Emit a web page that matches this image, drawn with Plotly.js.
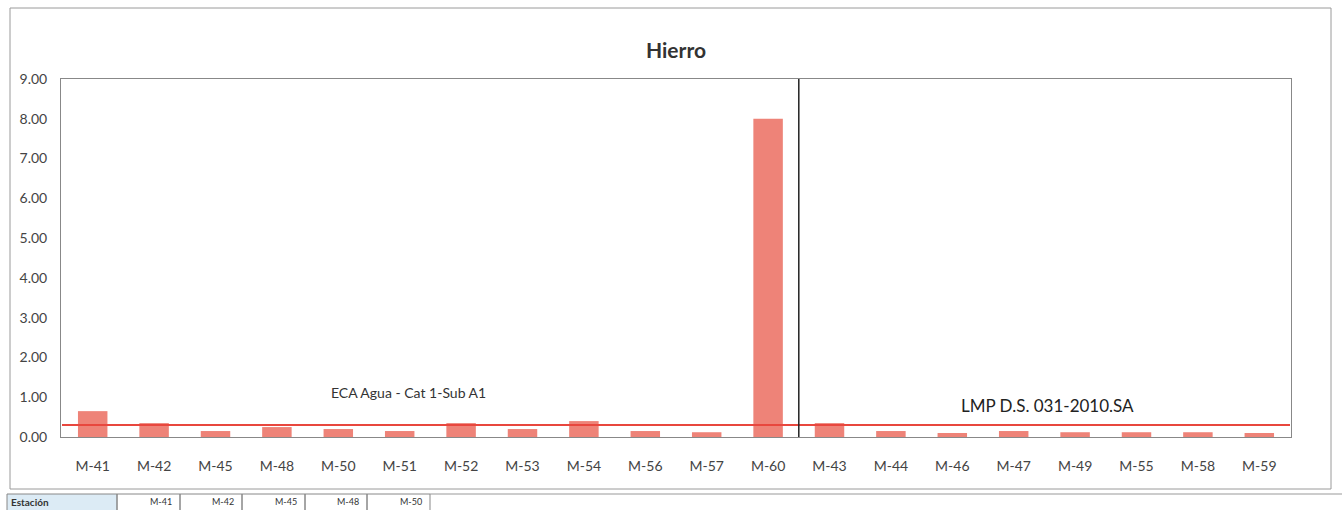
<!DOCTYPE html>
<html>
<head>
<meta charset="utf-8">
<script src="https://cdn.plot.ly/plotly-3.0.1.min.js"></script>
<style>html,body{margin:0;padding:0;background:#fff;}#chart{width:1342px;height:510px;}</style>
</head>
<body>
<div id="chart"></div>
<script>
// Data
const stations = ["M-41","M-42","M-45","M-48","M-50","M-51","M-52","M-53","M-54","M-56","M-57","M-60","M-43","M-44","M-46","M-47","M-49","M-55","M-58","M-59"];
const hierro = [0.65,0.35,0.15,0.25,0.20,0.15,0.35,0.20,0.40,0.15,0.12,8.00,0.35,0.15,0.10,0.15,0.12,0.12,0.12,0.10];
const ecaStations = ["M-41","M-42","M-45","M-48","M-50","M-51","M-52","M-53","M-54","M-56","M-57","M-60"];
const lmpStations = ["M-43","M-44","M-46","M-47","M-49","M-55","M-58","M-59"];
const ecaLimit = 0.3;
const lmpLimit = 0.3;
const yTicks = [0,1,2,3,4,5,6,7,8,9];
const ecaLabel = "ECA Agua - Cat 1-Sub A1";
const lmpLabel = "LMP D.S. 031-2010.SA";
const tableHeader = "Estación";
const tableCells = ["M-41","M-42","M-45","M-48","M-50"];

const font = "Lato, 'Open Sans', sans-serif";
const lineRed = "#E8473E";
const barColor = "#EE8378";

const ecaStart = stations.indexOf(ecaStations[0]) - 0.5;
const ecaEnd = stations.indexOf(ecaStations[ecaStations.length-1]) + 0.5;
const lmpStart = stations.indexOf(lmpStations[0]) - 0.5;
const lmpEnd = stations.indexOf(lmpStations[lmpStations.length-1]) + 0.5;

const traces = [{
  type: "bar",
  x: stations,
  y: hierro,
  marker: {color: barColor},
  hoverinfo: "x+y"
}];

// paper conversion helpers (plot area: x 61..1291, y 79..437)
const px = v => (v - 61) / 1230;
const py = v => (437 - v) / 358;

const shapes = [
  // outer chart border
  {type:"rect", xref:"paper", yref:"paper", x0:px(10), x1:px(1331), y0:py(489), y1:py(8),
   line:{color:"#9a9a9a", width:1}},
  // ECA limit line
  {type:"line", xref:"x", yref:"y", x0:ecaStart, x1:ecaEnd, y0:ecaLimit, y1:ecaLimit,
   line:{color:lineRed, width:2}},
  // LMP limit line
  {type:"line", xref:"x", yref:"y", x0:lmpStart, x1:lmpEnd, y0:lmpLimit, y1:lmpLimit,
   line:{color:lineRed, width:2}},
  // divider
  {type:"line", xref:"x", yref:"y", x0:ecaEnd, x1:ecaEnd, y0:0, y1:9.1,
   line:{color:"#222", width:1.5}},
  // table header cell
  {type:"rect", xref:"paper", yref:"paper", x0:px(7), x1:px(117), y0:py(512), y1:py(494),
   fillcolor:"#DCEBF5", line:{color:"#888", width:1}}
];
const cellEdges = [117,180,242,305,367,430];
for (let i = 0; i < cellEdges.length - 1; i++) {
  shapes.push({type:"rect", xref:"paper", yref:"paper",
    x0:px(cellEdges[i]), x1:px(cellEdges[i+1]), y0:py(512), y1:py(494),
    line:{color:"#888", width:1}});
}
shapes.push({type:"line", xref:"paper", yref:"paper", x0:px(430), x1:px(1342), y0:py(494), y1:py(494),
  line:{color:"#999", width:1}});

const annotations = [
  {xref:"x", yref:"y", x:5.15, y:1.13, text:ecaLabel, showarrow:false,
   font:{family:font, size:14, color:"#333"}},
  {xref:"x", yref:"y", x:15.55, y:0.8, text:lmpLabel, showarrow:false,
   font:{family:font, size:17, color:"#222"}},
  {xref:"paper", yref:"paper", x:px(10), y:py(495), xanchor:"left", yanchor:"top", text:"<b>"+tableHeader+"</b>",
   showarrow:false, font:{family:font, size:10, color:"#333"}, borderpad:0}
];
tableCells.forEach((t, i) => {
  annotations.push({xref:"paper", yref:"paper", x:px((cellEdges[i]+cellEdges[i+1])/2), y:py(495),
    yanchor:"top", text:t, showarrow:false, font:{family:font, size:9, color:"#333"}, borderpad:0});
});

const layout = {
  width: 1342, height: 510,
  margin: {l:61, r:51, t:79, b:73},
  paper_bgcolor: "#fff", plot_bgcolor: "#fff",
  title: {text:"<b>Hierro</b>", x:0.5, xref:"paper", y:0.9, yanchor:"middle",
          font:{family:font, size:21, color:"#333"}},
  showlegend: false,
  bargap: 0.52,
  xaxis: {type:"category", showgrid:false, zeroline:false, showline:true, mirror:true,
          linecolor:"#888", linewidth:1, ticks:"", tickfont:{family:font, size:14, color:"#444"},
          ticklabelstandoff: 16, fixedrange:true},
  yaxis: {range:[0,9], tickvals:yTicks, tickformat:".2f", showgrid:false, zeroline:false,
          showline:true, mirror:true, linecolor:"#888", linewidth:1, ticks:"",
          tickfont:{family:font, size:14, color:"#444"}, ticklabelstandoff: 10, fixedrange:true},
  shapes: shapes,
  annotations: annotations
};

Plotly.newPlot("chart", traces, layout, {displayModeBar:false, staticPlot:true});
</script>
</body>
</html>
